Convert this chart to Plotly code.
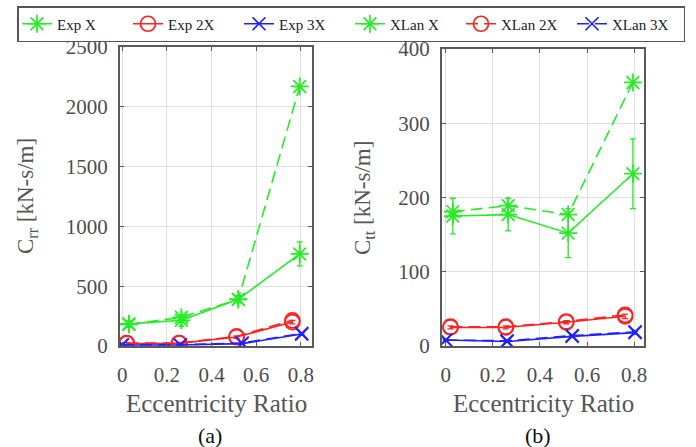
import plotly.graph_objects as go

# ---- data ----
x_green = [0.03, 0.265, 0.52, 0.795]
x_red = [0.02, 0.255, 0.512, 0.762]
x_blue = [0.0, 0.26, 0.537, 0.804]

# (a) C_rr [kN-s/m]
a_exp_x = [185, 215, 390, 770]
a_exp_x_err = [30, 50, 30, 100]
a_xlan_x = [180, 240, 390, 2170]
a_exp_2x = [20, 22, 75, 200]
a_exp_2x_err = [8, 8, 10, 15]
a_xlan_2x = [25, 25, 80, 215]
a_exp_3x = [8, 8, 20, 100]
a_exp_3x_err = [4, 4, 5, 10]
a_xlan_3x = [10, 10, 25, 105]

# (b) C_tt [kN-s/m]
b_exp_x = [175, 177, 152, 232]
b_exp_x_err = [24, 22, 33, 47]
b_xlan_x = [181, 189, 177, 355]
b_exp_2x = [25, 25, 32, 40]
b_exp_2x_err = [2, 2, 2, 3]
b_xlan_2x = [26, 26, 33, 42]
b_exp_3x = [8, 6, 13, 18]
b_exp_3x_err = [1, 1, 1, 2]
b_xlan_3x = [8, 7, 14, 19]

x_ticks = [0, 0.2, 0.4, 0.6, 0.8]
x_ticktext = ["0", "0.2", "0.4", "0.6", "0.8"]
a_yticks = [0, 500, 1000, 1500, 2000, 2500]
b_yticks = [0, 100, 200, 300, 400]

names = ["Exp X", "Exp 2X", "Exp 3X", "XLan X", "XLan 2X", "XLan 3X"]

GREEN = "#22ee22"
RED = "#ff2020"
BLUE = "#2020ff"
SERIF = "Liberation Serif"

fig = go.Figure()


def add_panel(xa, ya, exp_x, exp_x_err, xlan_x, exp_2x, exp_2x_err, xlan_2x,
              exp_3x, exp_3x_err, xlan_3x, show):
    specs = [
        (names[0], x_green, exp_x, exp_x_err, GREEN, "asterisk-open", "solid", 15),
        (names[1], x_red, exp_2x, exp_2x_err, RED, "circle-open", "solid", 15),
        (names[2], x_blue, exp_3x, exp_3x_err, BLUE, "x-thin-open", "solid", 13),
        (names[3], x_green, xlan_x, None, GREEN, "asterisk-open", "12px,6px", 15),
        (names[4], x_red, xlan_2x, None, RED, "circle-open", "12px,6px", 15),
        (names[5], x_blue, xlan_3x, None, BLUE, "x-thin-open", "12px,6px", 13),
    ]
    for name, xs, ys, err, col, sym, dash, size in specs:
        kw = {}
        if err is not None:
            kw["error_y"] = dict(type="data", array=err, visible=True,
                                 color=col, thickness=1.3, width=3)
        fig.add_trace(go.Scatter(
            x=xs, y=ys, name=name, mode="lines+markers",
            line=dict(color=col, width=1.6, dash=dash),
            marker=dict(symbol=sym, size=size, color=col,
                        line=dict(color=col, width=1.7)),
            xaxis=xa, yaxis=ya, showlegend=show, legendgroup=name, **kw))


add_panel("x", "y", a_exp_x, a_exp_x_err, a_xlan_x, a_exp_2x, a_exp_2x_err,
          a_xlan_2x, a_exp_3x, a_exp_3x_err, a_xlan_3x, True)
add_panel("x2", "y2", b_exp_x, b_exp_x_err, b_xlan_x, b_exp_2x, b_exp_2x_err,
          b_xlan_2x, b_exp_3x, b_exp_3x_err, b_xlan_3x, False)

W, H = 696, 447
axis_common = dict(
    showline=True, linecolor="#5a5a5a", linewidth=2, mirror="ticks",
    ticks="inside", ticklen=4, tickcolor="#5a5a5a", tickwidth=1,
    showgrid=True, gridcolor="#e0e0e0", gridwidth=1, zeroline=False,
    automargin=False,
    tickfont=dict(family=SERIF, size=21, color="#4d4d4d"),
)

fig.update_layout(
    width=W, height=H,
    margin=dict(l=0, r=0, t=0, b=0, autoexpand=False),
    paper_bgcolor="white", plot_bgcolor="white",
    font=dict(family=SERIF),
    xaxis=dict(domain=[120 / W, 312 / W], range=[-0.01, 0.85], anchor="y",
               tickvals=x_ticks, ticktext=x_ticktext, ticklabelstandoff=9,
               **axis_common),
    yaxis=dict(domain=[1 - 346 / H, 1 - 47 / H], range=[0, 2500], anchor="x",
               tickvals=a_yticks, ticklabelstandoff=6, **axis_common),
    xaxis2=dict(domain=[442 / W, 644 / W], range=[-0.016, 0.842], anchor="y2",
                tickvals=x_ticks, ticktext=x_ticktext, ticklabelstandoff=9,
                **axis_common),
    yaxis2=dict(domain=[1 - 346 / H, 1 - 49 / H], range=[0, 400], anchor="x2",
                tickvals=b_yticks, ticklabelstandoff=6, **axis_common),
    legend=dict(orientation="h", x=351 / W, xanchor="center",
                y=1 - 6 / H, yanchor="top",
                bgcolor="white", bordercolor="#555555", borderwidth=1.5,
                font=dict(family=SERIF, size=15, color="#222222"),
                itemwidth=30, entrywidth=66, entrywidthmode="pixels",
                tracegroupgap=0),
)

ann_font = dict(family=SERIF, size=25, color="#555555")
common_ann = dict(xref="paper", yref="paper", showarrow=False,
                  xanchor="center", yanchor="middle")
fig.add_annotation(x=216 / W, y=1 - 403 / H, text="Eccentricity Ratio",
                   font=ann_font, **common_ann)
fig.add_annotation(x=543 / W, y=1 - 403 / H, text="Eccentricity Ratio",
                   font=ann_font, **common_ann)
fig.add_annotation(x=27 / W, y=1 - 196 / H, text="C<sub>rr</sub> [kN-s/m]",
                   textangle=-90,
                   font=dict(family=SERIF, size=23, color="#555555"), **common_ann)
fig.add_annotation(x=364 / W, y=1 - 198 / H, text="C<sub>tt</sub> [kN-s/m]",
                   textangle=-90,
                   font=dict(family=SERIF, size=23, color="#555555"), **common_ann)
fig.add_annotation(x=210 / W, y=1 - 435 / H, text="(a)",
                   font=dict(family=SERIF, size=22, color="#111111"), **common_ann)
fig.add_annotation(x=538 / W, y=1 - 435 / H, text="(b)",
                   font=dict(family=SERIF, size=22, color="#111111"), **common_ann)

fig.write_html("out.html")
